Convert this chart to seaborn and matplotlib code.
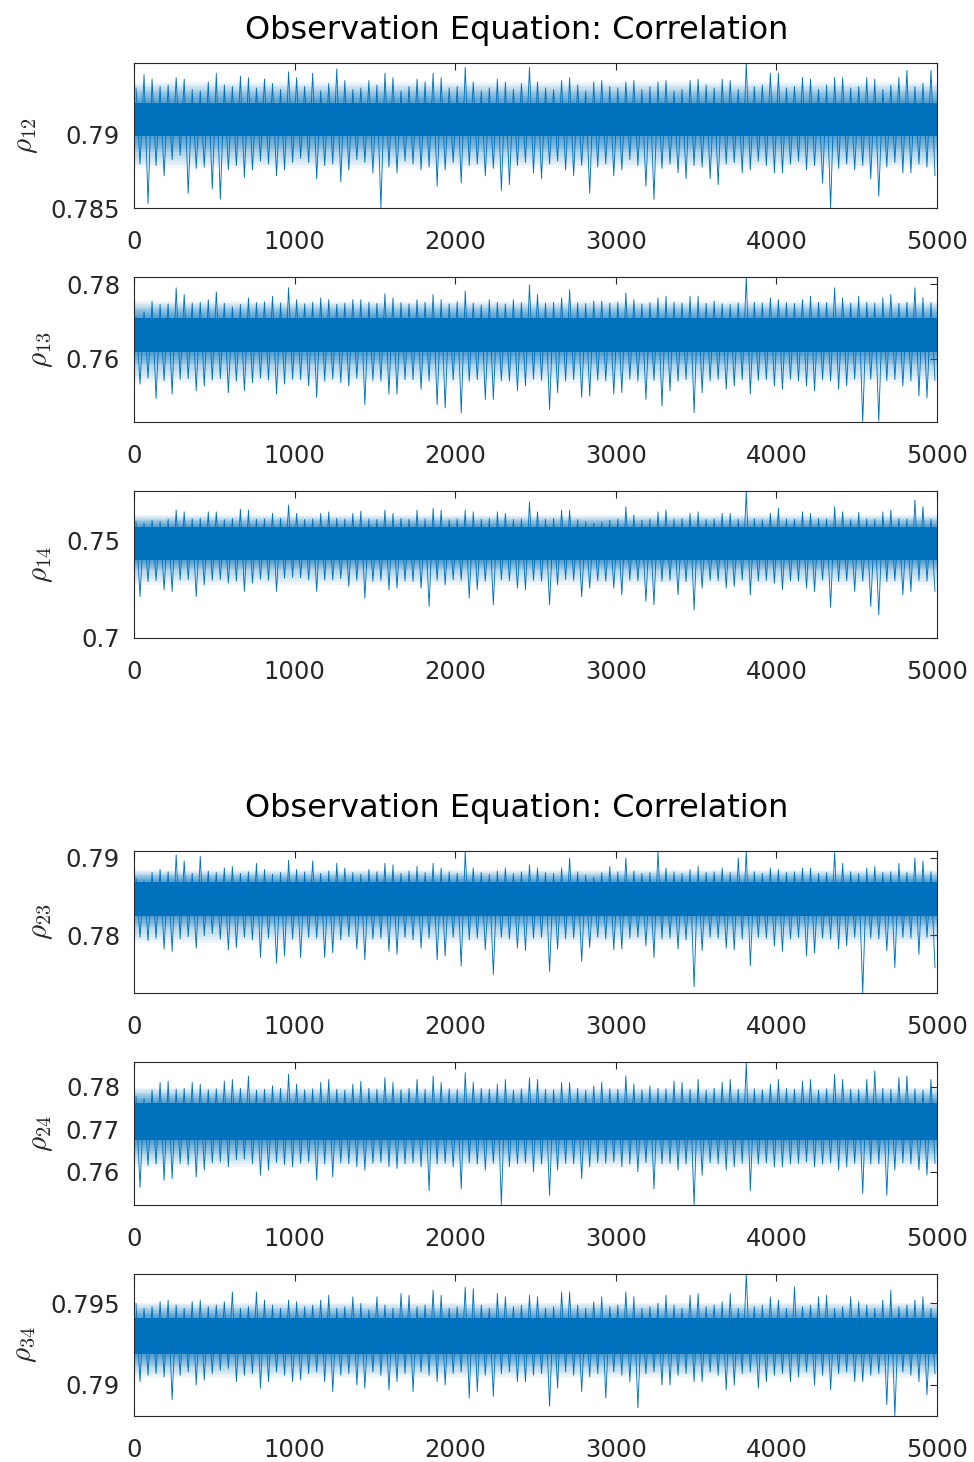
import numpy as np
import pandas as pd
import matplotlib
matplotlib.use("Agg")
import matplotlib.pyplot as plt
import seaborn as sns

# ---------------- data ----------------
title_text = "Observation Equation: Correlation"
bin_width = 50           # iterations per bin; each bin has one high and one low value
x_max = 5000
x_ticks = [0, 1000, 2000, 3000, 4000, 5000]
x_tick_labels = ["0", "1000", "2000", "3000", "4000", "5000"]

labels = [r"$\rho_{12}$", r"$\rho_{13}$", r"$\rho_{14}$",
          r"$\rho_{23}$", r"$\rho_{24}$", r"$\rho_{34}$"]

rho12_hi = [0.7932, 0.7941, 0.7938, 0.7933, 0.7934, 0.7939, 0.7938, 0.7931, 0.7930, 0.7936,
            0.7942, 0.7934, 0.7933, 0.7940, 0.7939, 0.7932, 0.7938, 0.7935, 0.7931, 0.7943,
            0.7939, 0.7933, 0.7942, 0.7930, 0.7935, 0.7945, 0.7937, 0.7931, 0.7932, 0.7937,
            0.7934, 0.7942, 0.7939, 0.7930, 0.7933, 0.7938, 0.7936, 0.7942, 0.7939, 0.7932,
            0.7933, 0.7946, 0.7936, 0.7930, 0.7932, 0.7938, 0.7936, 0.7931, 0.7935, 0.7946,
            0.7936, 0.7932, 0.7931, 0.7937, 0.7939, 0.7934, 0.7930, 0.7936, 0.7937, 0.7933,
            0.7932, 0.7936, 0.7937, 0.7931, 0.7933, 0.7936, 0.7937, 0.7930, 0.7931, 0.7937,
            0.7938, 0.7934, 0.7932, 0.7938, 0.7937, 0.7931, 0.7949, 0.7933, 0.7934, 0.7942,
            0.7942, 0.7932, 0.7933, 0.7939, 0.7938, 0.7931, 0.7934, 0.7939, 0.7939, 0.7932,
            0.7933, 0.7939, 0.7938, 0.7931, 0.7934, 0.7939, 0.7944, 0.7933, 0.7935, 0.7944]
rho12_lo = [0.7880, 0.7853, 0.7879, 0.7872, 0.7883, 0.7886, 0.7860, 0.7877, 0.7878, 0.7863,
            0.7856, 0.7876, 0.7879, 0.7871, 0.7876, 0.7882, 0.7880, 0.7872, 0.7876, 0.7881,
            0.7884, 0.7881, 0.7870, 0.7879, 0.7880, 0.7868, 0.7876, 0.7883, 0.7881, 0.7874,
            0.7850, 0.7878, 0.7874, 0.7882, 0.7880, 0.7876, 0.7878, 0.7865, 0.7876, 0.7881,
            0.7867, 0.7879, 0.7880, 0.7872, 0.7877, 0.7862, 0.7866, 0.7879, 0.7881, 0.7874,
            0.7870, 0.7880, 0.7882, 0.7876, 0.7872, 0.7879, 0.7860, 0.7878, 0.7880, 0.7872,
            0.7876, 0.7883, 0.7879, 0.7865, 0.7856, 0.7877, 0.7880, 0.7874, 0.7870, 0.7879,
            0.7878, 0.7870, 0.7866, 0.7880, 0.7881, 0.7874, 0.7876, 0.7882, 0.7879, 0.7874,
            0.7874, 0.7880, 0.7882, 0.7876, 0.7879, 0.7867, 0.7850, 0.7877, 0.7880, 0.7876,
            0.7879, 0.7870, 0.7858, 0.7878, 0.7881, 0.7874, 0.7874, 0.7880, 0.7878, 0.7872]

rho13_hi = [0.7712, 0.7727, 0.7755, 0.7746, 0.7748, 0.7791, 0.7773, 0.7750, 0.7752, 0.7759,
            0.7780, 0.7749, 0.7740, 0.7746, 0.7764, 0.7751, 0.7753, 0.7768, 0.7750, 0.7791,
            0.7759, 0.7748, 0.7752, 0.7764, 0.7759, 0.7747, 0.7750, 0.7759, 0.7759, 0.7752,
            0.7749, 0.7775, 0.7764, 0.7751, 0.7748, 0.7759, 0.7752, 0.7773, 0.7759, 0.7748,
            0.7753, 0.7782, 0.7750, 0.7745, 0.7759, 0.7752, 0.7748, 0.7759, 0.7751, 0.7798,
            0.7773, 0.7750, 0.7752, 0.7764, 0.7786, 0.7751, 0.7749, 0.7755, 0.7755, 0.7750,
            0.7752, 0.7777, 0.7759, 0.7748, 0.7751, 0.7764, 0.7768, 0.7752, 0.7750, 0.7768,
            0.7768, 0.7749, 0.7755, 0.7748, 0.7746, 0.7750, 0.7820, 0.7752, 0.7750, 0.7764,
            0.7759, 0.7751, 0.7749, 0.7759, 0.7768, 0.7752, 0.7751, 0.7791, 0.7764, 0.7750,
            0.7768, 0.7752, 0.7750, 0.7764, 0.7773, 0.7749, 0.7752, 0.7791, 0.7764, 0.7751]
rho13_lo = [0.7532, 0.7548, 0.7493, 0.7541, 0.7505, 0.7545, 0.7546, 0.7514, 0.7527, 0.7543,
            0.7547, 0.7509, 0.7540, 0.7514, 0.7536, 0.7548, 0.7543, 0.7505, 0.7532, 0.7545,
            0.7544, 0.7527, 0.7496, 0.7540, 0.7545, 0.7536, 0.7527, 0.7547, 0.7477, 0.7542,
            0.7540, 0.7505, 0.7505, 0.7544, 0.7544, 0.7518, 0.7541, 0.7477, 0.7468, 0.7543,
            0.7455, 0.7540, 0.7544, 0.7491, 0.7491, 0.7541, 0.7540, 0.7514, 0.7527, 0.7545,
            0.7542, 0.7464, 0.7509, 0.7540, 0.7544, 0.7496, 0.7500, 0.7542, 0.7541, 0.7505,
            0.7509, 0.7545, 0.7540, 0.7491, 0.7542, 0.7473, 0.7514, 0.7540, 0.7544, 0.7455,
            0.7509, 0.7541, 0.7545, 0.7518, 0.7527, 0.7544, 0.7505, 0.7542, 0.7544, 0.7527,
            0.7518, 0.7545, 0.7541, 0.7527, 0.7514, 0.7544, 0.7540, 0.7518, 0.7527, 0.7545,
            0.7430, 0.7545, 0.7432, 0.7541, 0.7544, 0.7527, 0.7541, 0.7500, 0.7495, 0.7542]

rho14_hi = [0.7597, 0.7590, 0.7606, 0.7598, 0.7610, 0.7657, 0.7648, 0.7612, 0.7615, 0.7648,
            0.7648, 0.7608, 0.7614, 0.7662, 0.7657, 0.7610, 0.7612, 0.7640, 0.7615, 0.7683,
            0.7640, 0.7609, 0.7612, 0.7640, 0.7648, 0.7615, 0.7610, 0.7640, 0.7652, 0.7612,
            0.7609, 0.7657, 0.7640, 0.7614, 0.7610, 0.7657, 0.7612, 0.7666, 0.7657, 0.7608,
            0.7612, 0.7657, 0.7648, 0.7610, 0.7614, 0.7648, 0.7640, 0.7609, 0.7612, 0.7700,
            0.7648, 0.7610, 0.7614, 0.7657, 0.7657, 0.7608, 0.7597, 0.7590, 0.7596, 0.7606,
            0.7612, 0.7674, 0.7631, 0.7605, 0.7612, 0.7648, 0.7657, 0.7610, 0.7614, 0.7640,
            0.7648, 0.7608, 0.7612, 0.7640, 0.7640, 0.7610, 0.7751, 0.7614, 0.7608, 0.7640,
            0.7666, 0.7612, 0.7610, 0.7648, 0.7640, 0.7614, 0.7612, 0.7674, 0.7648, 0.7608,
            0.7645, 0.7612, 0.7610, 0.7648, 0.7657, 0.7614, 0.7612, 0.7708, 0.7674, 0.7610]
rho14_lo = [0.7213, 0.7290, 0.7295, 0.7248, 0.7239, 0.7298, 0.7300, 0.7213, 0.7273, 0.7296,
            0.7300, 0.7282, 0.7292, 0.7239, 0.7282, 0.7302, 0.7296, 0.7239, 0.7307, 0.7312,
            0.7310, 0.7299, 0.7239, 0.7298, 0.7299, 0.7305, 0.7265, 0.7296, 0.7205, 0.7292,
            0.7296, 0.7248, 0.7256, 0.7294, 0.7290, 0.7256, 0.7162, 0.7296, 0.7273, 0.7300,
            0.7296, 0.7205, 0.7248, 0.7292, 0.7171, 0.7298, 0.7294, 0.7256, 0.7248, 0.7296,
            0.7292, 0.7171, 0.7273, 0.7300, 0.7296, 0.7213, 0.7256, 0.7294, 0.7292, 0.7256,
            0.7222, 0.7296, 0.7294, 0.7188, 0.7171, 0.7292, 0.7296, 0.7222, 0.7290, 0.7145,
            0.7256, 0.7296, 0.7294, 0.7256, 0.7265, 0.7298, 0.7222, 0.7292, 0.7296, 0.7282,
            0.7248, 0.7294, 0.7292, 0.7256, 0.7239, 0.7298, 0.7157, 0.7290, 0.7294, 0.7239,
            0.7292, 0.7162, 0.7120, 0.7290, 0.7294, 0.7222, 0.7239, 0.7296, 0.7292, 0.7239]

rho23_hi = [0.7874, 0.7870, 0.7881, 0.7885, 0.7882, 0.7904, 0.7896, 0.7880, 0.7902, 0.7883,
            0.7881, 0.7887, 0.7889, 0.7880, 0.7882, 0.7893, 0.7885, 0.7879, 0.7881, 0.7897,
            0.7885, 0.7882, 0.7896, 0.7880, 0.7883, 0.7893, 0.7887, 0.7881, 0.7879, 0.7885,
            0.7882, 0.7893, 0.7891, 0.7880, 0.7883, 0.7889, 0.7881, 0.7893, 0.7887, 0.7882,
            0.7880, 0.7909, 0.7887, 0.7881, 0.7879, 0.7883, 0.7887, 0.7880, 0.7882, 0.7891,
            0.7887, 0.7881, 0.7880, 0.7887, 0.7900, 0.7882, 0.7878, 0.7875, 0.7881, 0.7889,
            0.7882, 0.7900, 0.7883, 0.7880, 0.7881, 0.7909, 0.7887, 0.7882, 0.7880, 0.7885,
            0.7889, 0.7881, 0.7882, 0.7887, 0.7881, 0.7900, 0.7909, 0.7882, 0.7880, 0.7887,
            0.7885, 0.7881, 0.7882, 0.7887, 0.7887, 0.7880, 0.7881, 0.7907, 0.7893, 0.7882,
            0.7880, 0.7887, 0.7889, 0.7881, 0.7882, 0.7893, 0.7881, 0.7900, 0.7896, 0.7882]
rho23_lo = [0.7797, 0.7793, 0.7796, 0.7782, 0.7779, 0.7795, 0.7798, 0.7783, 0.7799, 0.7802,
            0.7795, 0.7781, 0.7784, 0.7797, 0.7794, 0.7771, 0.7796, 0.7764, 0.7773, 0.7795,
            0.7771, 0.7797, 0.7796, 0.7771, 0.7777, 0.7794, 0.7798, 0.7782, 0.7768, 0.7795,
            0.7796, 0.7779, 0.7775, 0.7797, 0.7794, 0.7783, 0.7796, 0.7768, 0.7773, 0.7797,
            0.7760, 0.7794, 0.7796, 0.7781, 0.7749, 0.7797, 0.7795, 0.7783, 0.7780, 0.7796,
            0.7797, 0.7753, 0.7782, 0.7795, 0.7796, 0.7766, 0.7784, 0.7797, 0.7795, 0.7781,
            0.7782, 0.7796, 0.7797, 0.7786, 0.7771, 0.7795, 0.7796, 0.7782, 0.7794, 0.7733,
            0.7780, 0.7797, 0.7796, 0.7783, 0.7781, 0.7795, 0.7760, 0.7797, 0.7796, 0.7786,
            0.7779, 0.7795, 0.7797, 0.7773, 0.7777, 0.7796, 0.7795, 0.7782, 0.7786, 0.7797,
            0.7725, 0.7796, 0.7795, 0.7780, 0.7758, 0.7797, 0.7796, 0.7775, 0.7797, 0.7758]

rho24_hi = [0.7778, 0.7772, 0.7792, 0.7810, 0.7813, 0.7794, 0.7796, 0.7810, 0.7806, 0.7793,
            0.7795, 0.7813, 0.7817, 0.7796, 0.7825, 0.7792, 0.7794, 0.7802, 0.7796, 0.7829,
            0.7806, 0.7793, 0.7795, 0.7810, 0.7817, 0.7794, 0.7792, 0.7806, 0.7813, 0.7796,
            0.7794, 0.7821, 0.7810, 0.7793, 0.7796, 0.7817, 0.7794, 0.7825, 0.7810, 0.7795,
            0.7793, 0.7833, 0.7810, 0.7796, 0.7794, 0.7806, 0.7817, 0.7792, 0.7795, 0.7821,
            0.7817, 0.7794, 0.7793, 0.7810, 0.7810, 0.7796, 0.7792, 0.7802, 0.7810, 0.7795,
            0.7794, 0.7825, 0.7806, 0.7793, 0.7802, 0.7796, 0.7795, 0.7813, 0.7810, 0.7794,
            0.7817, 0.7792, 0.7796, 0.7810, 0.7817, 0.7794, 0.7858, 0.7795, 0.7793, 0.7806,
            0.7817, 0.7796, 0.7794, 0.7813, 0.7817, 0.7792, 0.7795, 0.7829, 0.7817, 0.7794,
            0.7793, 0.7817, 0.7837, 0.7796, 0.7794, 0.7821, 0.7825, 0.7795, 0.7792, 0.7817]
rho24_lo = [0.7564, 0.7615, 0.7618, 0.7580, 0.7584, 0.7620, 0.7616, 0.7588, 0.7604, 0.7621,
            0.7623, 0.7612, 0.7628, 0.7630, 0.7619, 0.7592, 0.7604, 0.7622, 0.7617, 0.7612,
            0.7620, 0.7623, 0.7580, 0.7618, 0.7588, 0.7621, 0.7619, 0.7612, 0.7604, 0.7620,
            0.7622, 0.7612, 0.7608, 0.7619, 0.7621, 0.7612, 0.7556, 0.7618, 0.7620, 0.7612,
            0.7560, 0.7621, 0.7618, 0.7604, 0.7620, 0.7522, 0.7612, 0.7619, 0.7621, 0.7600,
            0.7618, 0.7545, 0.7604, 0.7620, 0.7619, 0.7584, 0.7612, 0.7621, 0.7620, 0.7623,
            0.7612, 0.7618, 0.7600, 0.7621, 0.7560, 0.7619, 0.7620, 0.7604, 0.7618, 0.7522,
            0.7592, 0.7621, 0.7619, 0.7604, 0.7612, 0.7620, 0.7556, 0.7618, 0.7621, 0.7612,
            0.7612, 0.7619, 0.7620, 0.7623, 0.7612, 0.7618, 0.7621, 0.7604, 0.7612, 0.7620,
            0.7549, 0.7618, 0.7619, 0.7545, 0.7604, 0.7621, 0.7618, 0.7604, 0.7592, 0.7620]

rho34_hi = [0.7950, 0.7947, 0.7948, 0.7951, 0.7952, 0.7949, 0.7947, 0.7951, 0.7952, 0.7948,
            0.7949, 0.7951, 0.7957, 0.7947, 0.7948, 0.7957, 0.7952, 0.7949, 0.7947, 0.7952,
            0.7951, 0.7948, 0.7949, 0.7952, 0.7955, 0.7947, 0.7948, 0.7954, 0.7950, 0.7946,
            0.7954, 0.7949, 0.7947, 0.7956, 0.7955, 0.7948, 0.7949, 0.7958, 0.7955, 0.7947,
            0.7948, 0.7960, 0.7959, 0.7949, 0.7947, 0.7956, 0.7954, 0.7948, 0.7949, 0.7955,
            0.7954, 0.7947, 0.7948, 0.7957, 0.7957, 0.7949, 0.7947, 0.7951, 0.7954, 0.7948,
            0.7949, 0.7957, 0.7954, 0.7947, 0.7948, 0.7950, 0.7955, 0.7949, 0.7947, 0.7955,
            0.7956, 0.7948, 0.7949, 0.7951, 0.7956, 0.7947, 0.7968, 0.7948, 0.7949, 0.7954,
            0.7952, 0.7947, 0.7960, 0.7948, 0.7949, 0.7954, 0.7955, 0.7947, 0.7948, 0.7954,
            0.7951, 0.7949, 0.7947, 0.7952, 0.7958, 0.7948, 0.7949, 0.7952, 0.7954, 0.7947]
rho34_lo = [0.7902, 0.7906, 0.7907, 0.7905, 0.7891, 0.7906, 0.7908, 0.7900, 0.7903, 0.7907,
            0.7909, 0.7910, 0.7902, 0.7906, 0.7907, 0.7898, 0.7902, 0.7908, 0.7906, 0.7902,
            0.7903, 0.7907, 0.7908, 0.7902, 0.7896, 0.7906, 0.7907, 0.7900, 0.7898, 0.7908,
            0.7906, 0.7897, 0.7902, 0.7907, 0.7896, 0.7908, 0.7906, 0.7902, 0.7900, 0.7907,
            0.7908, 0.7892, 0.7896, 0.7906, 0.7893, 0.7907, 0.7908, 0.7902, 0.7902, 0.7906,
            0.7907, 0.7887, 0.7898, 0.7908, 0.7906, 0.7896, 0.7905, 0.7907, 0.7892, 0.7908,
            0.7906, 0.7902, 0.7886, 0.7907, 0.7908, 0.7900, 0.7900, 0.7906, 0.7907, 0.7902,
            0.7902, 0.7908, 0.7906, 0.7897, 0.7900, 0.7907, 0.7908, 0.7898, 0.7902, 0.7906,
            0.7907, 0.7902, 0.7905, 0.7908, 0.7900, 0.7906, 0.7897, 0.7907, 0.7908, 0.7902,
            0.7902, 0.7906, 0.7907, 0.7888, 0.7881, 0.7908, 0.7906, 0.7902, 0.7894, 0.7907]

# density zones of each trace, (low, high): solid core, dense fringe, sparse fringe
core_bands = [(0.7899, 0.7922), (0.7618, 0.7709), (0.7401, 0.7572),
              (0.7825, 0.7869), (0.7675, 0.7762), (0.79188, 0.79412)]
mid_bands = [(0.7888, 0.7930), (0.7582, 0.7736), (0.7350, 0.7606),
             (0.7810, 0.7878), (0.7643, 0.7782), (0.79116, 0.79463)]
outer_bands = [(0.7877, 0.7936), (0.7536, 0.7755), (0.7273, 0.7631),
               (0.7790, 0.7885), (0.7612, 0.7798), (0.79045, 0.79504)]

y_limits = [(0.785, 0.7949), (0.743, 0.782), (0.700, 0.7755),
            (0.7725, 0.7909), (0.7522, 0.7858), (0.7881, 0.7968)]
y_ticks = [[0.785, 0.79], [0.76, 0.78], [0.70, 0.75],
           [0.78, 0.79], [0.76, 0.77, 0.78], [0.79, 0.795]]
y_tick_labels = [["0.785", "0.79"], ["0.76", "0.78"], ["0.7", "0.75"],
                 ["0.78", "0.79"], ["0.76", "0.77", "0.78"], ["0.79", "0.795"]]

his = [rho12_hi, rho13_hi, rho14_hi, rho23_hi, rho24_hi, rho34_hi]
los = [rho12_lo, rho13_lo, rho14_lo, rho23_lo, rho24_lo, rho34_lo]

# ---------------- styling ----------------
sns.set_style("white")
plt.rcParams["font.family"] = ["DejaVu Sans"]
plt.rcParams["mathtext.fontset"] = "cm"

line_color = "#0072BD"
axis_color = "#262626"

W, H = 974, 1462
fig = plt.figure(figsize=(W / 100, H / 100), dpi=100)

# axes boxes in pixels: (left, top, right, bottom)
boxes = [(134, 63, 937, 208), (134, 277, 937, 422), (134, 491, 937, 638),
         (134, 851, 937, 993), (134, 1062, 937, 1205), (134, 1274, 937, 1416)]


def shade(ax, outer, inner, steps, alpha):
    """Soft density fade between an outer and an inner band (drawing effect only)."""
    for j in range(steps):
        f = j / steps
        lo = outer[0] + (inner[0] - outer[0]) * f
        hi = outer[1] + (inner[1] - outer[1]) * f
        ax.fill_between([0, x_max], [lo, lo], [hi, hi], color=line_color,
                        alpha=alpha, linewidth=0, zorder=1)


for k in range(6):
    l, t, r, b = boxes[k]
    ax = fig.add_axes([l / W, 1 - b / H, (r - l) / W, (b - t) / H])

    xs, ys = [], []
    for i, (h, lo) in enumerate(zip(his[k], los[k])):
        xs += [i * bin_width + bin_width * 0.25, i * bin_width + bin_width * 0.75]
        ys += [h, lo]
    df = pd.DataFrame({"iteration": xs, "value": ys})

    shade(ax, outer_bands[k], mid_bands[k], 5, 0.06)
    shade(ax, mid_bands[k], core_bands[k], 5, 0.13)
    c_lo, c_hi = core_bands[k]
    ax.fill_between([0, x_max], [c_lo, c_lo], [c_hi, c_hi], color=line_color,
                    linewidth=0, zorder=1)
    sns.lineplot(data=df, x="iteration", y="value", ax=ax, sort=False,
                 estimator=None, color=line_color, linewidth=0.65, zorder=2)

    ax.set_xlim(0, x_max)
    ax.set_ylim(*y_limits[k])
    ax.set_xticks(x_ticks)
    ax.set_xticklabels(x_tick_labels)
    ax.set_yticks(y_ticks[k])
    ax.set_yticklabels(y_tick_labels[k])
    ax.set_xlabel("")
    ax.set_ylabel(labels[k], fontsize=21, labelpad=8)

    ax.tick_params(axis="both", which="both", direction="in", top=True, right=True,
                   length=5, width=0.8, color=axis_color, labelcolor=axis_color,
                   labelsize=17.5)
    ax.tick_params(axis="x", pad=16)
    ax.tick_params(axis="y", pad=10)
    for s in ax.spines.values():
        s.set_color(axis_color)
        s.set_linewidth(0.8)
        s.set_visible(True)

for ty in (30, 808):
    fig.text(517 / W, 1 - ty / H, title_text, ha="center", va="center",
             fontsize=23, color="black")

fig.savefig("out.png", dpi=100)
